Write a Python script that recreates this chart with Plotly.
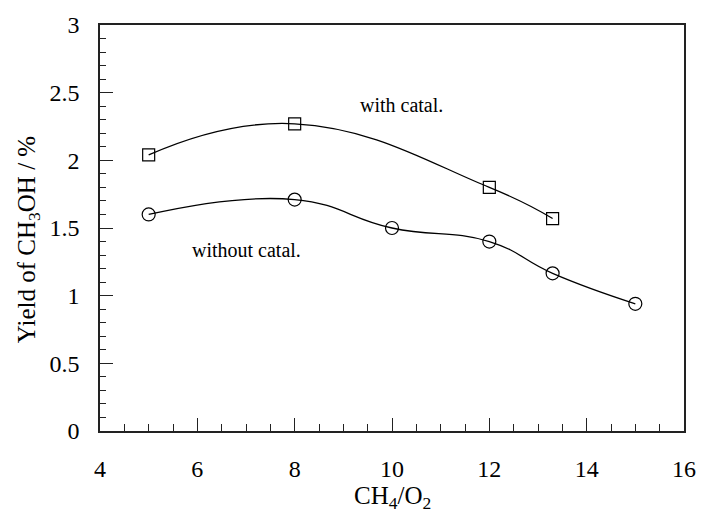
import plotly.graph_objects as go

# Data
ratio_with = [5, 8, 12, 13.3]
yield_with = [2.04, 2.27, 1.80, 1.57]

ratio_without = [5, 8, 10, 12, 13.3, 15]
yield_without = [1.60, 1.71, 1.50, 1.40, 1.165, 0.94]

x_ticks = [4, 6, 8, 10, 12, 14, 16]
y_ticks = [0, 0.5, 1, 1.5, 2, 2.5, 3]
y_tick_text = ["0", "0.5", "1", "1.5", "2", "2.5", "3"]

FONT = "Liberation Serif"

fig = go.Figure()
fig.add_trace(go.Scatter(
    x=ratio_with, y=yield_with, mode="lines+markers",
    line=dict(color="black", width=1.3, shape="spline", smoothing=1.3),
    marker=dict(symbol="square-open", size=12, color="black", line=dict(width=1.2)),
    showlegend=False))
fig.add_trace(go.Scatter(
    x=ratio_without, y=yield_without, mode="lines+markers",
    line=dict(color="black", width=1.3, shape="spline", smoothing=1.3),
    marker=dict(symbol="circle-open", size=13, color="black", line=dict(width=1.2)),
    showlegend=False))

fig.update_layout(
    width=708, height=515,
    margin=dict(l=100, r=18, t=21, b=84),
    paper_bgcolor="white", plot_bgcolor="white",
    font=dict(family=FONT, size=24, color="black"),
    xaxis=dict(
        range=[4, 16], tickvals=x_ticks, ticks="inside", ticklen=13, tickwidth=1.2,
        tickcolor="#222", showline=True, linecolor="#222", linewidth=1.5, mirror=True,
        showgrid=False, zeroline=False, ticklabelstandoff=15,
        tickfont=dict(family=FONT, size=24, color="black"),
        minor=dict(dtick=0.5, ticks="inside", ticklen=7, tickwidth=1, tickcolor="#222"),
    ),
    yaxis=dict(
        range=[0, 3], tickvals=y_ticks, ticktext=y_tick_text, ticks="inside", ticklen=13,
        tickwidth=1.2, tickcolor="#222", showline=True, linecolor="#222", linewidth=1.5,
        mirror=True, showgrid=False, zeroline=False, ticklabelstandoff=14,
        tickfont=dict(family=FONT, size=24, color="black"),
        minor=dict(dtick=0.1, ticks="inside", ticklen=6, tickwidth=1, tickcolor="#222"),
    ),
    annotations=[
        dict(x=10.2, y=2.41, xref="x", yref="y", text="with catal.", showarrow=False,
             font=dict(family=FONT, size=20, color="black")),
        dict(x=7.0, y=1.34, xref="x", yref="y", text="without catal.", showarrow=False,
             font=dict(family=FONT, size=20, color="black")),
        dict(x=0.5, y=0, xref="paper", yref="paper", yshift=-66, yanchor="middle",
             text="CH<sub>4</sub>/O<sub>2</sub>", showarrow=False,
             font=dict(family=FONT, size=25, color="black")),
        dict(x=0, y=0.47, xref="paper", yref="paper", xshift=-72, xanchor="center",
             yanchor="middle", textangle=-90,
             text="Yield of CH<sub>3</sub>OH / %", showarrow=False,
             font=dict(family=FONT, size=25, color="black")),
    ],
)

fig.write_html("out.html")
